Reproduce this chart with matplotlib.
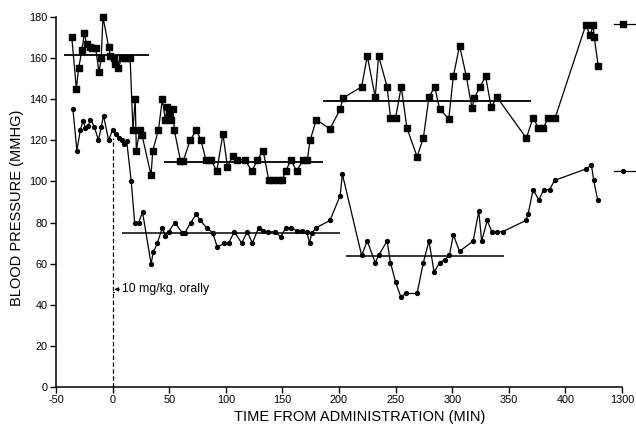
import matplotlib
matplotlib.use("Agg")
import matplotlib.pyplot as plt
from matplotlib.lines import Line2D

plt.rcParams["font.family"] = ["Liberation Sans", "DejaVu Sans"]

# systolic pressure (squares)
sys_time = [-36, -32, -30, -27, -25, -23, -20, -18, -15, -12, -10, -8.5, -3.5, -2, 1,
            2.5, 5, 8, 12, 15.5, 18, 20, 21, 24, 26, 34, 35.5, 40.5, 44, 46.5, 48.5,
            50, 52, 53.5, 54.5, 60, 62.5, 68.5, 74, 78, 82.5, 87, 92, 97.5, 101.5,
            106, 110, 117, 123, 128, 133, 138, 142, 146, 149.5, 153, 157.5, 162.5,
            168.5, 172, 174.5, 180, 192, 201, 203.5, 220, 225, 232, 235, 242.5,
            245.5, 250, 255, 260, 269, 274.5, 279.5, 284.5, 289, 297, 301, 306.5,
            312.5, 317.5, 319.5, 324.5, 329.5, 334.5, 339.5, 365.5, 371.5, 376,
            380.5, 385, 391, 418, 422, 424.5, 425.5, 429]
sys_bp = [170, 145, 155, 164, 172, 167, 165.5, 165, 165, 153, 160, 180, 165.5, 161, 160,
          157, 155, 160, 160, 160, 125, 140, 115, 125, 122.5, 103, 115, 125, 140, 130, 136,
          133, 130, 135, 125, 110, 110, 120, 125, 120, 110.5, 110.5, 105, 123, 107,
          112.5, 110.5, 110.5, 105, 110.5, 115, 100.5, 100.5, 100.5, 100.5, 105, 110.5, 105,
          110.5, 110.5, 120, 130, 125.5, 135, 140.5, 146, 161, 141, 161, 146,
          131, 131, 146, 126, 112, 121, 141, 146, 135, 130.5, 151, 166,
          151, 135.5, 140.5, 146, 151, 136, 141, 121, 131, 126,
          126, 131, 131, 176, 171, 176, 170, 156]

# diastolic pressure (circles)
dia_time = [-35, -31.5, -28.5, -26, -24, -21.5, -19.5, -16, -12.5, -10, -8, -3.5, 0, 3,
            5.5, 8.5, 10.5, 12.5, 16.5, 19.5, 23, 26.5, 34, 36, 39.5, 44, 46.5, 49.5,
            55, 61.5, 64, 69, 74, 77.5, 83, 88.5, 92.5, 98.5, 102.5, 107.5, 114, 119,
            123.5, 129, 133, 137.5, 143.5, 148.5, 153, 158, 162.5, 167, 171.5, 174,
            176, 180, 192, 201, 203, 220, 225, 232, 235, 242.5, 245.5, 250, 254.5,
            259.5, 269, 274.5, 279.5, 284, 289, 293.5, 297.5, 301, 306.5, 318.5,
            323.5, 326, 331, 335, 340, 344.5, 365, 367, 371.5, 376.5, 381, 386,
            390.5, 418, 423, 425, 428.5]
dia_bp = [135, 115, 125, 129.5, 126, 127, 130, 126.5, 120, 126.5, 132, 120, 125, 123,
          121, 120, 118, 119.5, 100, 80, 80, 85, 60, 65.5, 70, 77.5, 73.5, 75.5,
          80, 75, 75, 80, 84, 81, 77.5, 75, 68, 70, 70, 75.5, 70, 75.5,
          70, 77.5, 76, 75.5, 75.5, 73, 77.5, 77.5, 76, 76, 75.5, 70,
          75, 77.5, 81, 93, 103.5, 64, 71, 60.5, 64, 71, 60.5, 51, 44,
          45.5, 45.5, 60.5, 71, 56, 60.5, 62, 64, 74, 66, 71,
          85.5, 71, 81, 75.5, 75.5, 75.5, 81, 84, 96, 91, 96, 96,
          100.5, 106, 108, 100.5, 91]

# period means: start, end, level
sys_mean_start = [-43, 45, 186]
sys_mean_end = [32, 186, 370]
sys_mean_level = [161.5, 109.5, 139]
dia_mean_start = [8, 206]
dia_mean_end = [201, 346]
dia_mean_level = [75, 63.5]

xticks = [-50, 0, 50, 100, 150, 200, 250, 300, 350, 400, 450]
xtick_labels = ["-50", "0", "50", "100", "150", "200", "250", "300", "350", "400", "1300"]
yticks = [0, 20, 40, 60, 80, 100, 120, 140, 160, 180]

fig = plt.figure(figsize=(6.36, 4.32), dpi=100)
ax = fig.add_axes([0.088, 0.104, 0.89, 0.857])

ax.plot(sys_time, sys_bp, color="black", lw=0.9, marker="s", ms=5, clip_on=False)
ax.plot(dia_time, dia_bp, color="black", lw=0.9, marker="o", ms=2.8, clip_on=False)
ax.hlines(sys_mean_level, sys_mean_start, sys_mean_end, color="black", lw=1.3)
ax.hlines(dia_mean_level, dia_mean_start, dia_mean_end, color="black", lw=1.1)

# dose marker
ax.plot([0, 0], [0, 121], color="black", lw=0.9, ls=(0, (3.5, 2)))
ax.plot([0, 1.5], [46, 46], color="black", lw=0.8)
ax.annotate("10 mg/kg, orally", xy=(1.5, 47.5), xytext=(8.5, 47.5), fontsize=8.8,
            va="center", ha="left",
            arrowprops=dict(arrowstyle="-|>", color="black", lw=0.7,
                            mutation_scale=6, shrinkA=0, shrinkB=0))

ax.set_xlim(-50, 450)
ax.set_ylim(0, 180)
ax.set_xticks(xticks)
ax.set_xticklabels(xtick_labels)
ax.set_yticks(yticks)
ax.tick_params(direction="out", length=4, width=1, labelsize=7.8, pad=2)
for side in ("top", "right"):
    ax.spines[side].set_visible(False)
ax.spines["left"].set_linewidth(1.1)
ax.spines["bottom"].set_linewidth(1.1)

ax.set_xlabel("TIME FROM ADMINISTRATION (MIN)", fontsize=10.5, va="center")
ax.set_ylabel("BLOOD PRESSURE (MMHG)", fontsize=10.5, va="center")
ax.xaxis.set_label_coords(0.537, -0.08)
ax.yaxis.set_label_coords(-0.069, 0.484)

# key symbols cut off at the right edge
key_x = [614 / 636, 1.0]
fig.add_artist(Line2D(key_x, [1 - 24 / 432] * 2, color="black", lw=0.9,
                      transform=fig.transFigure))
fig.add_artist(Line2D(key_x, [1 - 171 / 432] * 2, color="black", lw=0.9,
                      transform=fig.transFigure))
fig.add_artist(Line2D([623 / 636], [1 - 24 / 432], color="black", marker="s", ms=5,
                      transform=fig.transFigure))
fig.add_artist(Line2D([623 / 636], [1 - 171 / 432], color="black", marker="o", ms=2.8,
                      transform=fig.transFigure))

fig.savefig("out.png", dpi=100)
